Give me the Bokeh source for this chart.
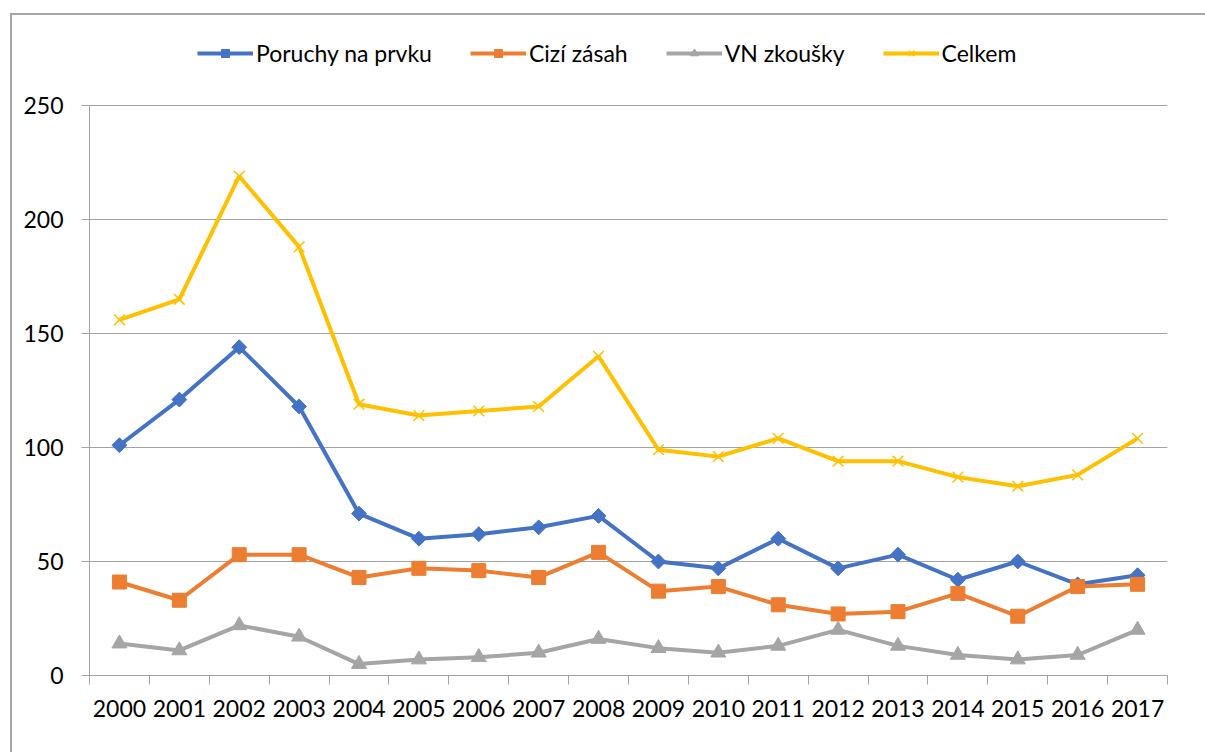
import math
from bokeh.plotting import figure
from bokeh.models import (Range1d, FixedTicker, Legend, LegendItem)
from bokeh.embed import file_html
from bokeh.resources import INLINE

years = [str(y) for y in range(2000, 2018)]
poruchy = [101, 121, 144, 118, 71, 60, 62, 65, 70, 50, 47, 60, 47, 53, 42, 50, 40, 44]
cizi = [41, 33, 53, 53, 43, 47, 46, 43, 54, 37, 39, 31, 27, 28, 36, 26, 39, 40]
vn = [14, 11, 22, 17, 5, 7, 8, 10, 16, 12, 10, 13, 20, 13, 9, 7, 9, 20]
celkem = [156, 165, 219, 188, 119, 114, 116, 118, 140, 99, 96, 104, 94, 94, 87, 83, 88, 104]
y_ticks = [0, 50, 100, 150, 200, 250]

FONT = "Lato"
FS = "23px"
GRID = "#a3a3a3"

# category centres on a linear scale (one unit per category)
xs = [i + 0.5 for i in range(len(years))]

# frame reaches the top of the canvas so the legend can sit inside it;
# the value axis (0-250) occupies the lower 570 px of the 675 px frame
y_top = 250 * 675 / 570

p = figure(width=1205, height=752, output_backend="svg", toolbar_location=None,
           x_range=Range1d(0, len(years)), y_range=Range1d(0, y_top),
           min_border_left=89, min_border_right=38, min_border_top=0, min_border_bottom=77)
p.outline_line_color = None
p.border_fill_color = None
p.background_fill_color = None
p.styles = {"background": "linear-gradient(#a6a6a6, #a6a6a6) 10px 13px / 2px 2000px no-repeat, "
                          "linear-gradient(#a6a6a6, #a6a6a6) 10px 13px / 2000px 2px no-repeat, white"}
p.xgrid.grid_line_color = None
p.ygrid.grid_line_color = GRID
p.ygrid.grid_line_width = 1

ya = p.yaxis[0]
ya.ticker = FixedTicker(ticks=y_ticks)
ya.bounds = (0, 250)
ya.axis_line_color = GRID
ya.major_tick_line_color = GRID
ya.major_tick_out = 8
ya.major_tick_in = 0
ya.minor_tick_line_color = None
ya.major_label_standoff = 18
ya.major_label_text_font = FONT
ya.major_label_text_font_size = FS
ya.major_label_text_color = "black"

xa = p.xaxis[0]
xa.ticker = FixedTicker(ticks=xs, minor_ticks=list(range(len(years) + 1)))
xa.major_label_overrides = {x: y for x, y in zip(xs, years)}
xa.axis_line_color = GRID
xa.major_tick_line_color = None
xa.minor_tick_line_color = GRID
xa.minor_tick_out = 9
xa.minor_tick_in = 0
xa.major_label_standoff = 15
xa.major_label_text_font = FONT
xa.major_label_text_font_size = FS
xa.major_label_text_color = "black"

LW = 4
r1l = p.line(xs, poruchy, line_color="#4472C4", line_width=LW)
r1m = p.scatter(xs, poruchy, marker="square", angle=math.pi / 4, size=10.5, color="#4472C4")
r2l = p.line(xs, cizi, line_color="#ED7D31", line_width=LW)
r2m = p.scatter(xs, cizi, marker="square", size=14, color="#ED7D31")
r3l = p.line(xs, vn, line_color="#A5A5A5", line_width=LW)
r3m = p.scatter(xs, vn, marker="triangle", size=15, color="#A5A5A5")
r4l = p.line(xs, celkem, line_color="#FFC000", line_width=LW)
r4m = p.scatter(xs, celkem, marker="x", size=15, line_color="#FFC000", line_width=1.5)

legend = Legend(items=[
    LegendItem(label="Poruchy na prvku", renderers=[r1l, r1m]),
    LegendItem(label="Cizí zásah", renderers=[r2l, r2m]),
    LegendItem(label="VN zkoušky", renderers=[r3l, r3m]),
    LegendItem(label="Celkem", renderers=[r4l, r4m]),
], orientation="horizontal", location=(108, 608), glyph_width=56, glyph_height=20,
    label_standoff=3, spacing=38, padding=0, margin=0, border_line_color=None,
    background_fill_alpha=0, label_text_font=FONT, label_text_font_size=FS,
    label_text_color="black")
p.add_layout(legend, "center")

open("out.html", "w").write(file_html(p, INLINE))
